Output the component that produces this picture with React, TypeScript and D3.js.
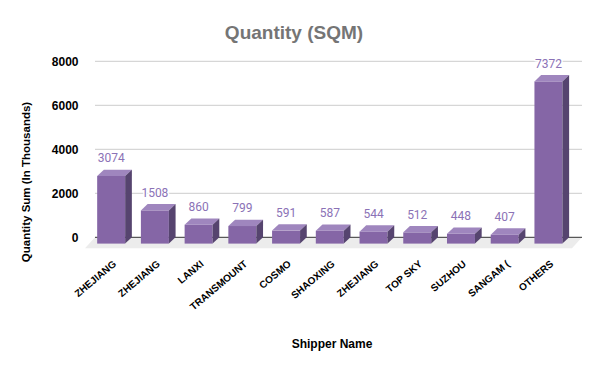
import React from "react";
import * as d3 from "d3";

const categories = ["ZHEJIANG", "ZHEJIANG", "LANXI", "TRANSMOUNT", "COSMO", "SHAOXING", "ZHEJIANG", "TOP SKY", "SUZHOU", "SANGAM (", "OTHERS"];
const values = [3074, 1508, 860, 799, 591, 587, 544, 512, 448, 407, 7372];
const yTicks = [0, 2000, 4000, 6000, 8000];

const W = 600;
const H = 371;
const plotLeft = 95;
const plotRight = 582;
const yTop = 61.3;
const yZero = 237.3;
const DX = 6.7;
const DY = 6.3;
const FLOOR_DX = 10;
const FLOOR_DY = 11;

const FRONT = "#8566a6";
const TOP = "#9f86be";
const SIDE = "#56446f";
const LABEL = "#8b72b6";

export default function App() {
  const y = d3.scaleLinear().domain([0, 8000]).range([yZero, yTop]);
  const idx = categories.map((_, i) => String(i));
  const x = d3.scaleBand().domain(idx).range([96, 577]).paddingInner(0.36).paddingOuter(0.18);
  const bw = x.bandwidth();
  const sans = "'Liberation Sans', Arial, sans-serif";

  return (
    <svg width={W} height={H} style={{ position: "absolute", left: 0, top: 0, background: "#fff" }}>
      <rect width={W} height={H} fill="#fff" />
      <text x={294} y={38.5} textAnchor="middle" fontFamily={sans} fontWeight="bold" fontSize={19} fill="#757575">
        Quantity (SQM)
      </text>
      {/* floor */}
      <polygon
        points={`${plotLeft},${yZero} ${plotRight},${yZero} ${plotRight - FLOOR_DX},${yZero + FLOOR_DY} ${plotLeft - FLOOR_DX},${yZero + FLOOR_DY}`}
        fill="#ececec"
      />
      {/* gridlines */}
      {yTicks.map((t) => (
        <g key={t}>
          {t !== 0 && (
            <line x1={plotLeft} x2={plotRight} y1={y(t)} y2={y(t)} stroke="#cccccc" strokeWidth={1} />
          )}
          <text x={78.5} y={y(t) + 4.3} textAnchor="end" fontFamily={sans} fontWeight="bold" fontSize={12} fill="#000">
            {t}
          </text>
        </g>
      ))}
      <line x1={plotLeft} x2={plotRight} y1={yZero} y2={yZero} stroke="#333333" strokeWidth={1} />
      {/* bars */}
      {values.map((v, i) => {
        const bx = x(String(i)) as number;
        const yv = y(v);
        const fx = bx - DX;
        return (
          <g key={i}>
            <rect x={fx} y={yv + DY} width={bw} height={yZero - yv} fill={FRONT} />
            <polygon
              points={`${bx},${yv} ${bx + bw},${yv} ${bx + bw - DX},${yv + DY} ${bx - DX},${yv + DY}`}
              fill={TOP}
            />
            <polygon
              points={`${bx + bw},${yv} ${bx + bw},${yZero} ${bx + bw - DX},${yZero + DY} ${bx + bw - DX},${yv + DY}`}
              fill={SIDE}
            />
          </g>
        );
      })}
      {/* value labels */}
      {values.map((v, i) => {
        const bx = x(String(i)) as number;
        return (
          <text
            key={i}
            x={bx - DX + bw / 2}
            y={y(v) - 7.5}
            textAnchor="middle"
            fontFamily="Roboto, sans-serif"
            fontSize={12}
            fill={LABEL}
            stroke="#fff"
            strokeWidth={3}
            paintOrder="stroke"
            strokeLinejoin="round"
          >
            {v}
          </text>
        );
      })}
      {/* x labels */}
      {categories.map((c, i) => {
        const cx = (x(String(i)) as number) + bw / 2 - 1;
        return (
          <text
            key={i}
            transform={`translate(${cx},${265}) rotate(-40)`}
            textAnchor="end"
            fontFamily={sans}
            fontWeight="bold"
            fontSize={10}
            fill="#000"
          >
            {c}
          </text>
        );
      })}
      <text x={332} y={347.5} textAnchor="middle" fontFamily={sans} fontWeight="bold" fontSize={12} fill="#000">
        Shipper Name
      </text>
      <text
        transform={`translate(29.5,182) rotate(-90)`}
        textAnchor="middle"
        fontFamily={sans}
        fontWeight="bold"
        fontSize={11.5}
        fill="#000"
      >
        Quantity Sum (In Thousands)
      </text>
    </svg>
  );
}
